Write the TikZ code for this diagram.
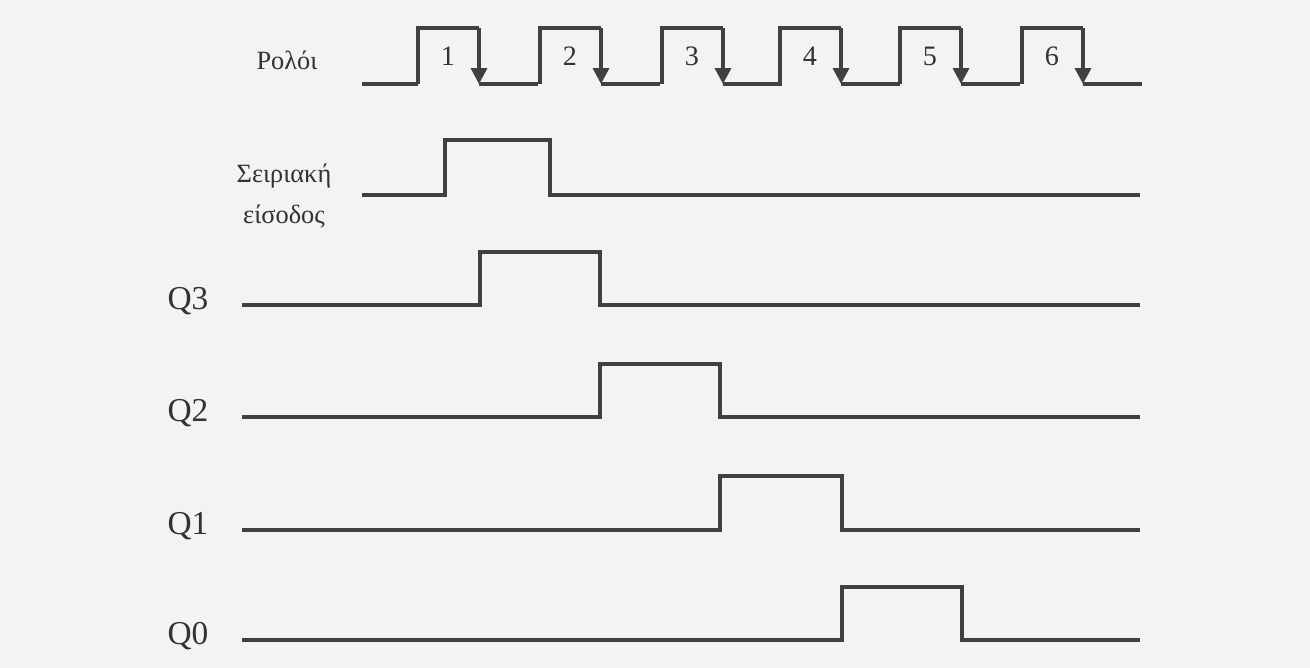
\documentclass[tikz,border=0pt]{standalone}
\usepackage{fontspec}
\setmainfont{Liberation Serif}
\usepackage{tikz}
\usetikzlibrary{arrows.meta, positioning}
\usepackage{xcolor}
\definecolor{paperGray}{RGB}{243, 243, 241}
\definecolor{traceGray}{RGB}{62, 66, 62}
\definecolor{inkGray}{RGB}{50, 50, 50}

\begin{document}
\begin{tikzpicture}[
        x=0.02cm, y=-0.02cm,
        wave/.style={draw=traceGray, line width=2pt, line join=miter},
        clkArrow/.style={-{Triangle[length=9pt, width=9pt]}},
        sigLabel/.style={text=inkGray, font=\fontsize{19}{21}\selectfont},
        greekLabel/.style={text=inkGray, font=\fontsize{15}{17}\selectfont, align=center, inner sep=0pt},
        pulseNum/.style={text=inkGray, font=\fontsize{16}{18}\selectfont}
    ]
        \fill[paperGray] (0,0) rectangle (1310,668);
        \useasboundingbox (0,0) rectangle (1310,668);

        % clock
        \node[greekLabel] (clkLabel) at (287,60) {Ρολόι};
        \draw[wave] (362,84) -- (418,84);
        \foreach \r [count=\i] in {418,540,662,780,900,1022} {
            \draw[wave] (\r,84) -- (\r,28) -- ({\r+61},28);
            \draw[wave, clkArrow] ({\r+61},28) -- ({\r+61},84);
            \draw[wave] ({\r+61},84) -- ({\r+120},84);
            \node[pulseNum] (num\i) at ({\r+30},56) {\i};
        }

        % serial input
        \node[greekLabel] (serLabel) at (284,196) {Σειριακή\\[6pt]είσοδος};
        \draw[wave] (362,195) -- (445,195) -- (445,140) -- (550,140) -- (550,195) -- (1140,195);

        % outputs
        \node[sigLabel] (q3Label) at (188,301) {Q3};
        \draw[wave] (242,305) -- (480,305) -- (480,252) -- (600,252) -- (600,305) -- (1140,305);

        \node[sigLabel] (q2Label) at (188,413) {Q2};
        \draw[wave] (242,417) -- (600,417) -- (600,364) -- (720,364) -- (720,417) -- (1140,417);

        \node[sigLabel] (q1Label) at (188,526) {Q1};
        \draw[wave] (242,530) -- (720,530) -- (720,476) -- (842,476) -- (842,530) -- (1140,530);

        \node[sigLabel] (q0Label) at (188,636) {Q0};
        \draw[wave] (242,640) -- (842,640) -- (842,587) -- (962,587) -- (962,640) -- (1140,640);
    \end{tikzpicture}
\end{document}
